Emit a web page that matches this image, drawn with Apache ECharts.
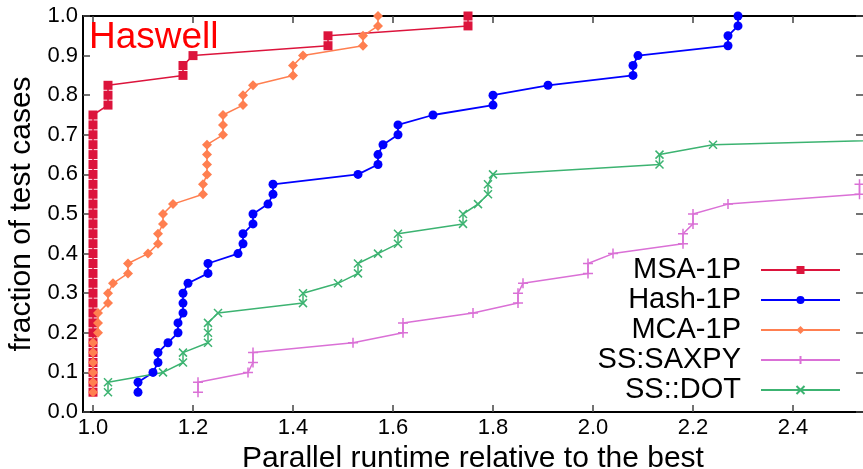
<!DOCTYPE html>
<html>
<head>
<meta charset="utf-8">
<script src="https://cdn.jsdelivr.net/npm/echarts@6/dist/echarts.min.js"></script>
<style>
  html, body { margin: 0; padding: 0; background: #fff; }
  #chart { width: 863px; height: 469px; }
</style>
</head>
<body>
<div id="chart"></div>
<script>
// fraction of test cases (y) shared by every profile, index by index
var fractions = [0.05, 0.075, 0.1, 0.125, 0.15, 0.175, 0.2, 0.225, 0.25, 0.275,
  0.3, 0.325, 0.35, 0.375, 0.4, 0.425, 0.45, 0.475, 0.5, 0.525,
  0.55, 0.575, 0.6, 0.625, 0.65, 0.675, 0.7, 0.725, 0.75, 0.775,
  0.8, 0.825, 0.85, 0.875, 0.9, 0.925, 0.95, 0.975, 1.0];

// relative runtime (x) for each fraction above
var msa1p = [1.0, 1.0, 1.0, 1.0, 1.0, 1.0, 1.0, 1.0, 1.0, 1.0,
  1.0, 1.0, 1.0, 1.0, 1.0, 1.0, 1.0, 1.0, 1.0, 1.0,
  1.0, 1.0, 1.0, 1.0, 1.0, 1.0, 1.0, 1.0, 1.0, 1.03,
  1.03, 1.03, 1.18, 1.18, 1.2, 1.47, 1.47, 1.75, 1.75];
var hash1p = [1.09, 1.09, 1.12, 1.13, 1.13, 1.15, 1.17, 1.17, 1.18, 1.18,
  1.18, 1.19, 1.23, 1.23, 1.29, 1.3, 1.3, 1.32, 1.32, 1.35,
  1.36, 1.36, 1.53, 1.57, 1.57, 1.58, 1.61, 1.61, 1.68, 1.8,
  1.8, 1.91, 2.08, 2.08, 2.09, 2.27, 2.27, 2.29, 2.29];
var mca1p = [1.0, 1.0, 1.0, 1.0, 1.0, 1.0, 1.01, 1.01, 1.01, 1.03,
  1.03, 1.04, 1.07, 1.07, 1.11, 1.13, 1.13, 1.14, 1.14, 1.16,
  1.22, 1.22, 1.228, 1.228, 1.228, 1.228, 1.26, 1.26, 1.26, 1.3,
  1.3, 1.32, 1.4, 1.4, 1.42, 1.54, 1.54, 1.57, 1.57];
var saxpy = [1.21, 1.21, 1.31, 1.32, 1.32, 1.52, 1.62, 1.62, 1.76, 1.85,
  1.85, 1.86, 1.99, 1.99, 2.04, 2.18, 2.18, 2.2, 2.2, 2.27,
  2.533, 2.533];
var dot = [1.03, 1.03, 1.14, 1.18, 1.18, 1.23, 1.23, 1.23, 1.25, 1.42,
  1.42, 1.49, 1.53, 1.53, 1.57, 1.61, 1.61, 1.74, 1.74, 1.77,
  1.79, 1.79, 1.8, 2.133, 2.133, 2.24, 3.0];

var xTicks = [1.0, 1.2, 1.4, 1.6, 1.8, 2.0, 2.2, 2.4];

var font = "'Liberation Sans', Arial, sans-serif";

function pairs(xs) {
  return xs.map(function (x, i) { return [x, fractions[i]]; });
}

function mkSeries(name, xs, color, symbol, size, stroked, width) {
  return {
    name: name,
    type: "line",
    data: pairs(xs),
    symbol: symbol,
    symbolSize: size,
    showSymbol: true,
    clip: true,
    lineStyle: { color: color, width: width || 1.5 },
    itemStyle: stroked
      ? { color: color, borderColor: color, borderWidth: 1.5 }
      : { color: color, borderWidth: 0 },
    emphasis: { disabled: true },
  };
}

var chart = echarts.init(document.getElementById("chart"), null, { renderer: "canvas" });

var xCommon = {
  type: "value",
  min: 0.98,
  max: 2.54,
  splitLine: { show: false },
  axisLine: { onZero: false, lineStyle: { color: "#000", width: 2 } },
  axisTick: { inside: true, length: 7, customValues: xTicks, lineStyle: { color: "#444", width: 1.5 } },
};
var yCommon = {
  type: "value",
  min: 0,
  max: 1,
  interval: 0.1,
  splitLine: { show: false },
  axisTick: { inside: true, length: 7, lineStyle: { color: "#444", width: 1.5 } },
};

var option = {
  animation: false,
  backgroundColor: "#fff",
  textStyle: { fontFamily: font },
  title: {
    text: "Haswell",
    left: 89,
    top: 19,
    padding: 0,
    textStyle: { color: "#ff0000", fontSize: 37, fontWeight: "normal", fontFamily: font },
  },
  grid: { left: 83, right: 0, top: 16, bottom: 57, outerBoundsMode: "none", containLabel: false },
  legend: {
    orient: "vertical",
    align: "right",
    right: 22,
    top: 255,
    padding: 0,
    itemGap: 0,
    itemWidth: 79,
    itemHeight: 10,
    textStyle: { fontSize: 29, color: "#000", fontFamily: font, lineHeight: 30, padding: [0, 15, 0, 0] },
    data: ["MSA-1P", "Hash-1P", "MCA-1P", "SS:SAXPY", "SS::DOT"],
  },
  xAxis: [
    Object.assign({}, xCommon, {
      position: "bottom",
      name: "Parallel runtime relative to the best",
      nameLocation: "middle",
      nameGap: 27,
      nameTextStyle: { fontSize: 30, color: "#000", fontFamily: font },
      axisLabel: {
        customValues: xTicks,
        fontSize: 22,
        color: "#000",
        margin: 5,
        formatter: function (v) { return v.toFixed(1); },
      },
    }),
    Object.assign({}, xCommon, { position: "top", axisLabel: { show: false } }),
  ],
  yAxis: [
    Object.assign({}, yCommon, {
      position: "left",
      axisLine: { onZero: false, lineStyle: { color: "#000", width: 2 } },
      name: "fraction of test cases",
      nameLocation: "middle",
      nameGap: 40,
      nameTextStyle: { fontSize: 30, color: "#000", fontFamily: font },
      axisLabel: {
        fontSize: 22,
        color: "#000",
        margin: 5,
        formatter: function (v) { return v.toFixed(1); },
      },
    }),
    Object.assign({}, yCommon, {
      position: "right",
      axisLine: { show: false },
      axisLabel: { show: false },
    }),
  ],
  series: [
    mkSeries("MSA-1P", msa1p, "#dc143c", "rect", 9, false),
    mkSeries("Hash-1P", hash1p, "#0000ff", "circle", 9, false, 1.8),
    mkSeries("MCA-1P", mca1p, "#ff7f50", "diamond", 10, false),
    mkSeries("SS:SAXPY", saxpy, "#da70d6", "path://M5,0L5,10M0,5L10,5", 10, true),
    mkSeries("SS::DOT", dot, "#3cb371", "path://M0,0L10,10M10,0L0,10", 8, true),
  ],
};

chart.setOption(option);
</script>
</body>
</html>
